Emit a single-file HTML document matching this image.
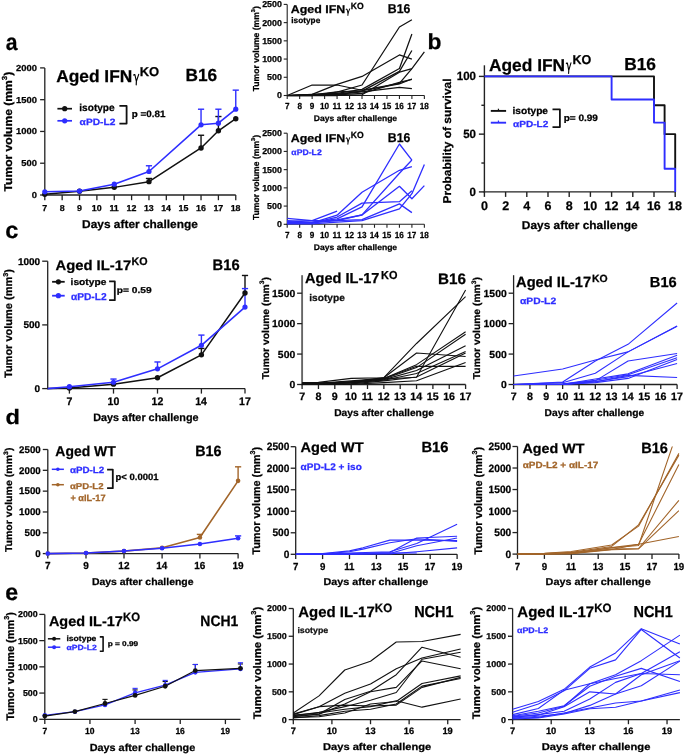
<!DOCTYPE html>
<html><head><meta charset="utf-8"><title>Figure</title>
<style>
html,body{margin:0;padding:0;background:#fff;width:685px;height:756px;overflow:hidden}
svg{display:block;will-change:transform;filter:blur(0.3px)}
text{font-family:'Liberation Sans', sans-serif;font-weight:bold;text-rendering:geometricPrecision;stroke-width:0.25px}
</style></head><body>
<svg width="685" height="756" viewBox="0 0 685 756">
<rect width="685" height="756" fill="#fff"/>
<text transform="translate(5.69 49.6) scale(0.9131 1)" font-size="23.175" fill="#000" stroke="#000">a</text>
<text transform="translate(427.49 49.3) scale(1.0417 1)" font-size="21.905" fill="#000" stroke="#000">b</text>
<text transform="translate(5.28 238.3) scale(1.0168 1)" font-size="23.175" fill="#000" stroke="#000">c</text>
<text transform="translate(5.53 423.5) scale(1.1343 1)" font-size="20.816" fill="#000" stroke="#000">d</text>
<text transform="translate(5.3 600.1) scale(0.9928 1)" font-size="23.358" fill="#000" stroke="#000">e</text>
<line x1="44.8" y1="195.65" x2="44.8" y2="67.9" stroke="#222" stroke-width="1.3"/>
<line x1="40.1" y1="195" x2="44.8" y2="195" stroke="#222" stroke-width="1.3"/>
<text transform="translate(31.76 197.99) scale(1.0800 1)" font-size="8.700" fill="#000" stroke="#000">0</text>
<line x1="40.1" y1="163.22" x2="44.8" y2="163.22" stroke="#222" stroke-width="1.3"/>
<text transform="translate(21.31 166.22) scale(1.0800 1)" font-size="8.700" fill="#000" stroke="#000">500</text>
<line x1="40.1" y1="131.45" x2="44.8" y2="131.45" stroke="#222" stroke-width="1.3"/>
<text transform="translate(16.09 134.44) scale(1.0800 1)" font-size="8.700" fill="#000" stroke="#000">1000</text>
<line x1="40.1" y1="99.68" x2="44.8" y2="99.68" stroke="#222" stroke-width="1.3"/>
<text transform="translate(16.09 102.67) scale(1.0800 1)" font-size="8.700" fill="#000" stroke="#000">1500</text>
<line x1="40.1" y1="67.9" x2="44.8" y2="67.9" stroke="#222" stroke-width="1.3"/>
<text transform="translate(16.09 70.89) scale(1.0800 1)" font-size="8.700" fill="#000" stroke="#000">2000</text>
<line x1="44.15" y1="195" x2="235.76" y2="195" stroke="#222" stroke-width="1.3"/>
<line x1="44.8" y1="195" x2="44.8" y2="200.2" stroke="#222" stroke-width="1.3"/>
<text transform="translate(42.34 210.8) scale(1.0300 1)" font-size="8.600" fill="#000" stroke="#000">7</text>
<line x1="62.16" y1="195" x2="62.16" y2="200.2" stroke="#222" stroke-width="1.3"/>
<text transform="translate(59.69 210.8) scale(1.0300 1)" font-size="8.600" fill="#000" stroke="#000">8</text>
<line x1="79.52" y1="195" x2="79.52" y2="200.2" stroke="#222" stroke-width="1.3"/>
<text transform="translate(77.07 210.8) scale(1.0300 1)" font-size="8.600" fill="#000" stroke="#000">9</text>
<line x1="96.88" y1="195" x2="96.88" y2="200.2" stroke="#222" stroke-width="1.3"/>
<text transform="translate(91.86 210.8) scale(1.0300 1)" font-size="8.600" fill="#000" stroke="#000">10</text>
<line x1="114.24" y1="195" x2="114.24" y2="200.2" stroke="#222" stroke-width="1.3"/>
<text transform="translate(109.4 210.8) scale(1.0300 1)" font-size="8.600" fill="#000" stroke="#000">11</text>
<line x1="131.6" y1="195" x2="131.6" y2="200.2" stroke="#222" stroke-width="1.3"/>
<text transform="translate(126.57 210.8) scale(1.0300 1)" font-size="8.600" fill="#000" stroke="#000">12</text>
<line x1="148.96" y1="195" x2="148.96" y2="200.2" stroke="#222" stroke-width="1.3"/>
<text transform="translate(143.92 210.8) scale(1.0300 1)" font-size="8.600" fill="#000" stroke="#000">13</text>
<line x1="166.32" y1="195" x2="166.32" y2="200.2" stroke="#222" stroke-width="1.3"/>
<text transform="translate(161.14 210.8) scale(1.0300 1)" font-size="8.600" fill="#000" stroke="#000">14</text>
<line x1="183.68" y1="195" x2="183.68" y2="200.2" stroke="#222" stroke-width="1.3"/>
<text transform="translate(178.6 210.8) scale(1.0300 1)" font-size="8.600" fill="#000" stroke="#000">15</text>
<line x1="201.04" y1="195" x2="201.04" y2="200.2" stroke="#222" stroke-width="1.3"/>
<text transform="translate(196 210.8) scale(1.0300 1)" font-size="8.600" fill="#000" stroke="#000">16</text>
<line x1="218.4" y1="195" x2="218.4" y2="200.2" stroke="#222" stroke-width="1.3"/>
<text transform="translate(213.39 210.8) scale(1.0300 1)" font-size="8.600" fill="#000" stroke="#000">17</text>
<line x1="235.76" y1="195" x2="235.76" y2="200.2" stroke="#222" stroke-width="1.3"/>
<text transform="translate(230.69 210.8) scale(1.0300 1)" font-size="8.600" fill="#000" stroke="#000">18</text>
<text transform="translate(12.4 191.43) rotate(-90) scale(1.0694 1)" font-size="11.300" stroke="#000">Tumor volume (mm<tspan dy="-5.09" font-size="7.35">3</tspan><tspan dy="5.09">)</tspan></text>
<text transform="translate(82.1 228.1) scale(1.0408 1)" font-size="11.449" fill="#000" stroke="#000">Days after challenge</text>
<text transform="translate(56.17 81.6) scale(1.0066 1)" font-size="17.246" fill="#000" stroke="#000">Aged IFN</text>
<path d="M133.78 75.19 Q133.9 74.32 134.85 74.5 L136.37 81.4 M138.72 74.38 L136.37 81.4 L136.22 84.82" fill="none" stroke="#000" stroke-width="1.16" stroke-linecap="round" stroke-linejoin="round"/>
<text transform="translate(139.73 75.85) scale(1.0203 1)" font-size="12.754" fill="#000" stroke="#000">KO</text>
<text transform="translate(185.44 81.1) scale(0.9850 1)" font-size="17.536" fill="#000" stroke="#000">B16</text>
<line x1="148.96" y1="181.65" x2="148.96" y2="178.48" stroke="#111" stroke-width="1.4"/>
<line x1="145.86" y1="178.48" x2="152.06" y2="178.48" stroke="#111" stroke-width="1.4"/>
<line x1="201.04" y1="147.97" x2="201.04" y2="135.26" stroke="#111" stroke-width="1.4"/>
<line x1="197.94" y1="135.26" x2="204.14" y2="135.26" stroke="#111" stroke-width="1.4"/>
<line x1="218.4" y1="130.81" x2="218.4" y2="116.52" stroke="#111" stroke-width="1.4"/>
<line x1="215.3" y1="116.52" x2="221.5" y2="116.52" stroke="#111" stroke-width="1.4"/>
<line x1="148.96" y1="171.49" x2="148.96" y2="165.77" stroke="#2e2eff" stroke-width="1.4"/>
<line x1="145.86" y1="165.77" x2="152.06" y2="165.77" stroke="#2e2eff" stroke-width="1.4"/>
<line x1="201.04" y1="124.78" x2="201.04" y2="109.21" stroke="#2e2eff" stroke-width="1.4"/>
<line x1="197.94" y1="109.21" x2="204.14" y2="109.21" stroke="#2e2eff" stroke-width="1.4"/>
<line x1="218.4" y1="123.19" x2="218.4" y2="109.21" stroke="#2e2eff" stroke-width="1.4"/>
<line x1="215.3" y1="109.21" x2="221.5" y2="109.21" stroke="#2e2eff" stroke-width="1.4"/>
<line x1="235.76" y1="109.21" x2="235.76" y2="90.14" stroke="#2e2eff" stroke-width="1.4"/>
<line x1="232.66" y1="90.14" x2="238.86" y2="90.14" stroke="#2e2eff" stroke-width="1.4"/>
<polyline points="44.8,194.36 79.52,191.19 114.24,187.37 148.96,181.65 201.04,147.97 218.4,130.81 235.76,118.74" fill="none" stroke="#111" stroke-width="1.5" stroke-linejoin="round"/>
<circle cx="44.8" cy="194.36" r="2.7" fill="#111"/>
<circle cx="79.52" cy="191.19" r="2.7" fill="#111"/>
<circle cx="114.24" cy="187.37" r="2.7" fill="#111"/>
<circle cx="148.96" cy="181.65" r="2.7" fill="#111"/>
<circle cx="201.04" cy="147.97" r="2.7" fill="#111"/>
<circle cx="218.4" cy="130.81" r="2.7" fill="#111"/>
<circle cx="235.76" cy="118.74" r="2.7" fill="#111"/>
<polyline points="44.8,191.82 79.52,191.06 114.24,184.2 148.96,171.49 201.04,124.78 218.4,123.19 235.76,109.21" fill="none" stroke="#2e2eff" stroke-width="1.6" stroke-linejoin="round"/>
<circle cx="44.8" cy="191.82" r="2.6" fill="#2e2eff"/>
<circle cx="79.52" cy="191.06" r="2.6" fill="#2e2eff"/>
<circle cx="114.24" cy="184.2" r="2.6" fill="#2e2eff"/>
<circle cx="148.96" cy="171.49" r="2.6" fill="#2e2eff"/>
<circle cx="201.04" cy="124.78" r="2.6" fill="#2e2eff"/>
<circle cx="218.4" cy="123.19" r="2.6" fill="#2e2eff"/>
<circle cx="235.76" cy="109.21" r="2.6" fill="#2e2eff"/>
<line x1="57.4" y1="108.7" x2="72" y2="108.7" stroke="#111" stroke-width="1.7"/>
<circle cx="64.7" cy="108.7" r="2.6" fill="#111"/>
<text transform="translate(79.29 111.3) scale(1.0057 1)" font-size="10.069" fill="#000" stroke="#000">isotype</text>
<line x1="57.4" y1="120.8" x2="72" y2="120.8" stroke="#2e2eff" stroke-width="1.7"/>
<circle cx="64.7" cy="120.8" r="2.6" fill="#2e2eff"/>
<text transform="translate(79.6 125.2) scale(1.1192 1)" font-size="9.130" fill="#2e2eff" stroke="#2e2eff">αPD-L2</text>
<polyline points="119.4,105.9 126.6,105.9 126.6,123.6 119.4,123.6" fill="none" stroke="#111" stroke-width="1.8" stroke-linejoin="round" stroke-linejoin="miter"/>
<text transform="translate(131.75 117.3) scale(1.0603 1)" font-size="9.275" fill="#000" stroke="#000">p =0.81</text>
<line x1="287.2" y1="96.05" x2="287.2" y2="4.4" stroke="#222" stroke-width="1.1"/>
<line x1="283.7" y1="95.5" x2="287.2" y2="95.5" stroke="#222" stroke-width="1.1"/>
<text transform="translate(276.94 98.46) scale(1.0300 1)" font-size="8.600" fill="#000" stroke="#000">0</text>
<line x1="283.7" y1="77.28" x2="287.2" y2="77.28" stroke="#222" stroke-width="1.1"/>
<text transform="translate(267.09 80.24) scale(1.0300 1)" font-size="8.600" fill="#000" stroke="#000">500</text>
<line x1="283.7" y1="59.06" x2="287.2" y2="59.06" stroke="#222" stroke-width="1.1"/>
<text transform="translate(262.16 62.02) scale(1.0300 1)" font-size="8.600" fill="#000" stroke="#000">1000</text>
<line x1="283.7" y1="40.84" x2="287.2" y2="40.84" stroke="#222" stroke-width="1.1"/>
<text transform="translate(262.16 43.8) scale(1.0300 1)" font-size="8.600" fill="#000" stroke="#000">1500</text>
<line x1="283.7" y1="22.62" x2="287.2" y2="22.62" stroke="#222" stroke-width="1.1"/>
<text transform="translate(262.16 25.58) scale(1.0300 1)" font-size="8.600" fill="#000" stroke="#000">2000</text>
<line x1="283.7" y1="4.4" x2="287.2" y2="4.4" stroke="#222" stroke-width="1.1"/>
<text transform="translate(262.16 7.36) scale(1.0300 1)" font-size="8.600" fill="#000" stroke="#000">2500</text>
<line x1="286.65" y1="95.5" x2="424.37" y2="95.5" stroke="#222" stroke-width="1.1"/>
<line x1="287.2" y1="95.5" x2="287.2" y2="99" stroke="#222" stroke-width="1.1"/>
<text transform="translate(284.93 109.2) scale(0.9200 1)" font-size="8.900" fill="#000" stroke="#000">7</text>
<line x1="299.67" y1="95.5" x2="299.67" y2="99" stroke="#222" stroke-width="1.1"/>
<text transform="translate(297.39 109.2) scale(0.9200 1)" font-size="8.900" fill="#000" stroke="#000">8</text>
<line x1="312.14" y1="95.5" x2="312.14" y2="99" stroke="#222" stroke-width="1.1"/>
<text transform="translate(309.87 109.2) scale(0.9200 1)" font-size="8.900" fill="#000" stroke="#000">9</text>
<line x1="324.61" y1="95.5" x2="324.61" y2="99" stroke="#222" stroke-width="1.1"/>
<text transform="translate(319.97 109.2) scale(0.9200 1)" font-size="8.900" fill="#000" stroke="#000">10</text>
<line x1="337.08" y1="95.5" x2="337.08" y2="99" stroke="#222" stroke-width="1.1"/>
<text transform="translate(332.61 109.2) scale(0.9200 1)" font-size="8.900" fill="#000" stroke="#000">11</text>
<line x1="349.55" y1="95.5" x2="349.55" y2="99" stroke="#222" stroke-width="1.1"/>
<text transform="translate(344.9 109.2) scale(0.9200 1)" font-size="8.900" fill="#000" stroke="#000">12</text>
<line x1="362.02" y1="95.5" x2="362.02" y2="99" stroke="#222" stroke-width="1.1"/>
<text transform="translate(357.36 109.2) scale(0.9200 1)" font-size="8.900" fill="#000" stroke="#000">13</text>
<line x1="374.49" y1="95.5" x2="374.49" y2="99" stroke="#222" stroke-width="1.1"/>
<text transform="translate(369.7 109.2) scale(0.9200 1)" font-size="8.900" fill="#000" stroke="#000">14</text>
<line x1="386.96" y1="95.5" x2="386.96" y2="99" stroke="#222" stroke-width="1.1"/>
<text transform="translate(382.26 109.2) scale(0.9200 1)" font-size="8.900" fill="#000" stroke="#000">15</text>
<line x1="399.43" y1="95.5" x2="399.43" y2="99" stroke="#222" stroke-width="1.1"/>
<text transform="translate(394.77 109.2) scale(0.9200 1)" font-size="8.900" fill="#000" stroke="#000">16</text>
<line x1="411.9" y1="95.5" x2="411.9" y2="99" stroke="#222" stroke-width="1.1"/>
<text transform="translate(407.27 109.2) scale(0.9200 1)" font-size="8.900" fill="#000" stroke="#000">17</text>
<line x1="424.37" y1="95.5" x2="424.37" y2="99" stroke="#222" stroke-width="1.1"/>
<text transform="translate(419.69 109.2) scale(0.9200 1)" font-size="8.900" fill="#000" stroke="#000">18</text>
<text transform="translate(258.6 91.29) rotate(-90) scale(0.9898 1)" font-size="8.700" stroke="#000">Tumor volume (mm<tspan dy="-3.91" font-size="5.65">3</tspan><tspan dy="3.91">)</tspan></text>
<text transform="translate(313.83 121.4) scale(1.0561 1)" font-size="8.116" fill="#000" stroke="#000">Days after challenge</text>
<text transform="translate(290.69 13.3) scale(1.1157 1)" font-size="11.159" fill="#000" stroke="#000">Aged IFN</text>
<path d="M346.2 9.5 Q346.3 8.75 346.92 8.9 L348.04 13.1 M349.7 8.8 L348.04 13.1 L347.89 15.4" fill="none" stroke="#000" stroke-width="1" stroke-linecap="round" stroke-linejoin="round"/>
<text transform="translate(350.72 9.35) scale(0.9601 1)" font-size="8.986" fill="#000" stroke="#000">KO</text>
<text transform="translate(387.78 13.2) scale(0.9540 1)" font-size="12.899" fill="#000" stroke="#000">B16</text>
<text transform="translate(291.32 23.3) scale(1.0165 1)" font-size="8.138" fill="#000" stroke="#000">isotype</text>
<polyline points="287.2,95.5 312.14,95.5 337.08,92.22 362.02,85.01 399.43,26.99 411.9,19.7" fill="none" stroke="#111" stroke-width="1.25" stroke-linejoin="round"/>
<polyline points="287.2,95.5 312.14,94.41 337.08,84.35 362.02,76.44 399.43,54.94 411.9,59.17" fill="none" stroke="#111" stroke-width="1.25" stroke-linejoin="round"/>
<polyline points="287.2,95.5 312.14,94.41 337.08,93.31 362.02,89.38 399.43,68.57 411.9,33.92" fill="none" stroke="#111" stroke-width="1.25" stroke-linejoin="round"/>
<polyline points="287.2,95.5 312.14,95.14 337.08,94.04 362.02,91.13 399.43,71.38 411.9,50.53" fill="none" stroke="#111" stroke-width="1.25" stroke-linejoin="round"/>
<polyline points="287.2,95.5 312.14,85.01 337.08,85.01 362.02,90.25 399.43,83.47 411.9,68.57 424.37,51.77" fill="none" stroke="#111" stroke-width="1.25" stroke-linejoin="round"/>
<polyline points="287.2,95.5 312.14,94.77 337.08,91.86 362.02,90.76 399.43,83.84 411.9,78.99" fill="none" stroke="#111" stroke-width="1.25" stroke-linejoin="round"/>
<polyline points="287.2,95.5 312.14,95.14 337.08,94.41 362.02,91.86 399.43,87.26 411.9,88.69" fill="none" stroke="#111" stroke-width="1.25" stroke-linejoin="round"/>
<polyline points="287.2,95.5 312.14,95.5 337.08,95.5 362.02,94.77 399.43,72.18 411.9,68.53" fill="none" stroke="#111" stroke-width="1.25" stroke-linejoin="round"/>
<polyline points="287.2,95.5 312.14,95.32 337.08,94.77 362.02,93.31 399.43,82.38 411.9,79.47" fill="none" stroke="#111" stroke-width="1.25" stroke-linejoin="round"/>
<line x1="287.2" y1="224.85" x2="287.2" y2="133.2" stroke="#222" stroke-width="1.1"/>
<line x1="283.7" y1="224.3" x2="287.2" y2="224.3" stroke="#222" stroke-width="1.1"/>
<text transform="translate(276.94 227.26) scale(1.0300 1)" font-size="8.600" fill="#000" stroke="#000">0</text>
<line x1="283.7" y1="206.08" x2="287.2" y2="206.08" stroke="#222" stroke-width="1.1"/>
<text transform="translate(267.09 209.04) scale(1.0300 1)" font-size="8.600" fill="#000" stroke="#000">500</text>
<line x1="283.7" y1="187.86" x2="287.2" y2="187.86" stroke="#222" stroke-width="1.1"/>
<text transform="translate(262.16 190.82) scale(1.0300 1)" font-size="8.600" fill="#000" stroke="#000">1000</text>
<line x1="283.7" y1="169.64" x2="287.2" y2="169.64" stroke="#222" stroke-width="1.1"/>
<text transform="translate(262.16 172.6) scale(1.0300 1)" font-size="8.600" fill="#000" stroke="#000">1500</text>
<line x1="283.7" y1="151.42" x2="287.2" y2="151.42" stroke="#222" stroke-width="1.1"/>
<text transform="translate(262.16 154.38) scale(1.0300 1)" font-size="8.600" fill="#000" stroke="#000">2000</text>
<line x1="283.7" y1="133.2" x2="287.2" y2="133.2" stroke="#222" stroke-width="1.1"/>
<text transform="translate(262.16 136.16) scale(1.0300 1)" font-size="8.600" fill="#000" stroke="#000">2500</text>
<line x1="286.65" y1="224.3" x2="424.37" y2="224.3" stroke="#222" stroke-width="1.1"/>
<line x1="287.2" y1="224.3" x2="287.2" y2="227.8" stroke="#222" stroke-width="1.1"/>
<text transform="translate(284.93 238) scale(0.9200 1)" font-size="8.900" fill="#000" stroke="#000">7</text>
<line x1="299.67" y1="224.3" x2="299.67" y2="227.8" stroke="#222" stroke-width="1.1"/>
<text transform="translate(297.39 238) scale(0.9200 1)" font-size="8.900" fill="#000" stroke="#000">8</text>
<line x1="312.14" y1="224.3" x2="312.14" y2="227.8" stroke="#222" stroke-width="1.1"/>
<text transform="translate(309.87 238) scale(0.9200 1)" font-size="8.900" fill="#000" stroke="#000">9</text>
<line x1="324.61" y1="224.3" x2="324.61" y2="227.8" stroke="#222" stroke-width="1.1"/>
<text transform="translate(319.97 238) scale(0.9200 1)" font-size="8.900" fill="#000" stroke="#000">10</text>
<line x1="337.08" y1="224.3" x2="337.08" y2="227.8" stroke="#222" stroke-width="1.1"/>
<text transform="translate(332.61 238) scale(0.9200 1)" font-size="8.900" fill="#000" stroke="#000">11</text>
<line x1="349.55" y1="224.3" x2="349.55" y2="227.8" stroke="#222" stroke-width="1.1"/>
<text transform="translate(344.9 238) scale(0.9200 1)" font-size="8.900" fill="#000" stroke="#000">12</text>
<line x1="362.02" y1="224.3" x2="362.02" y2="227.8" stroke="#222" stroke-width="1.1"/>
<text transform="translate(357.36 238) scale(0.9200 1)" font-size="8.900" fill="#000" stroke="#000">13</text>
<line x1="374.49" y1="224.3" x2="374.49" y2="227.8" stroke="#222" stroke-width="1.1"/>
<text transform="translate(369.7 238) scale(0.9200 1)" font-size="8.900" fill="#000" stroke="#000">14</text>
<line x1="386.96" y1="224.3" x2="386.96" y2="227.8" stroke="#222" stroke-width="1.1"/>
<text transform="translate(382.26 238) scale(0.9200 1)" font-size="8.900" fill="#000" stroke="#000">15</text>
<line x1="399.43" y1="224.3" x2="399.43" y2="227.8" stroke="#222" stroke-width="1.1"/>
<text transform="translate(394.77 238) scale(0.9200 1)" font-size="8.900" fill="#000" stroke="#000">16</text>
<line x1="411.9" y1="224.3" x2="411.9" y2="227.8" stroke="#222" stroke-width="1.1"/>
<text transform="translate(407.27 238) scale(0.9200 1)" font-size="8.900" fill="#000" stroke="#000">17</text>
<line x1="424.37" y1="224.3" x2="424.37" y2="227.8" stroke="#222" stroke-width="1.1"/>
<text transform="translate(419.69 238) scale(0.9200 1)" font-size="8.900" fill="#000" stroke="#000">18</text>
<text transform="translate(258.6 220.09) rotate(-90) scale(0.9898 1)" font-size="8.700" stroke="#000">Tumor volume (mm<tspan dy="-3.91" font-size="5.65">3</tspan><tspan dy="3.91">)</tspan></text>
<text transform="translate(313.83 250.2) scale(1.0561 1)" font-size="8.116" fill="#000" stroke="#000">Days after challenge</text>
<text transform="translate(290.69 142.1) scale(1.1157 1)" font-size="11.159" fill="#000" stroke="#000">Aged IFN</text>
<path d="M346.2 138.3 Q346.3 137.55 346.92 137.7 L348.04 141.9 M349.7 137.6 L348.04 141.9 L347.89 144.2" fill="none" stroke="#000" stroke-width="1" stroke-linecap="round" stroke-linejoin="round"/>
<text transform="translate(350.72 138.15) scale(0.9601 1)" font-size="8.986" fill="#000" stroke="#000">KO</text>
<text transform="translate(387.78 142) scale(0.9540 1)" font-size="12.899" fill="#000" stroke="#000">B16</text>
<text transform="translate(291.36 154.6) scale(1.0685 1)" font-size="8.116" fill="#2e2eff" stroke="#2e2eff">αPD-L2</text>
<polyline points="287.2,220.66 312.14,222.48 337.08,218.83 362.02,206.81 399.43,144.02 411.9,160.06" fill="none" stroke="#2e2eff" stroke-width="1.3" stroke-linejoin="round"/>
<polyline points="287.2,222.48 312.14,222.84 337.08,220.66 362.02,214.83 399.43,173.28 411.9,160.06" fill="none" stroke="#2e2eff" stroke-width="1.3" stroke-linejoin="round"/>
<polyline points="287.2,222.48 312.14,222.84 337.08,215.19 362.02,192.2 399.43,170.3 411.9,166.62" fill="none" stroke="#2e2eff" stroke-width="1.3" stroke-linejoin="round"/>
<polyline points="287.2,223.57 312.14,222.11 337.08,219.93 362.02,215.01 399.43,186.33 411.9,198.76 424.37,185.6" fill="none" stroke="#2e2eff" stroke-width="1.3" stroke-linejoin="round"/>
<polyline points="287.2,223.21 312.14,223.21 337.08,217.01 362.02,203.13 399.43,201.71 411.9,190.74" fill="none" stroke="#2e2eff" stroke-width="1.3" stroke-linejoin="round"/>
<polyline points="287.2,221.38 312.14,220.66 337.08,220.66 362.02,219.56 399.43,203.86 411.9,212.64" fill="none" stroke="#2e2eff" stroke-width="1.3" stroke-linejoin="round"/>
<polyline points="287.2,223.94 312.14,223.94 337.08,222.11 362.02,220.66 399.43,208.96 411.9,193.65 424.37,164.43" fill="none" stroke="#2e2eff" stroke-width="1.3" stroke-linejoin="round"/>
<polyline points="287.2,218.47 312.14,220.66 337.08,211.15" fill="none" stroke="#2e2eff" stroke-width="1.3" stroke-linejoin="round"/>
<line x1="484.4" y1="192.6" x2="484.4" y2="65.3" stroke="#222" stroke-width="1.4"/>
<line x1="478.9" y1="191.9" x2="484.4" y2="191.9" stroke="#222" stroke-width="1.4"/>
<text transform="translate(469.56 195.99) scale(0.9700 1)" font-size="11.900" fill="#000" stroke="#000">0</text>
<line x1="478.9" y1="134.15" x2="484.4" y2="134.15" stroke="#222" stroke-width="1.4"/>
<text transform="translate(463.14 138.24) scale(0.9700 1)" font-size="11.900" fill="#000" stroke="#000">50</text>
<line x1="478.9" y1="76.4" x2="484.4" y2="76.4" stroke="#222" stroke-width="1.4"/>
<text transform="translate(456.72 80.49) scale(0.9700 1)" font-size="11.900" fill="#000" stroke="#000">100</text>
<line x1="481.38" y1="163.03" x2="484.4" y2="163.03" stroke="#222" stroke-width="1.4"/>
<line x1="481.38" y1="105.28" x2="484.4" y2="105.28" stroke="#222" stroke-width="1.4"/>
<line x1="483.7" y1="191.9" x2="675.2" y2="191.9" stroke="#222" stroke-width="1.4"/>
<line x1="484.4" y1="191.9" x2="484.4" y2="196.9" stroke="#222" stroke-width="1.4"/>
<text transform="translate(480.93 210.4) scale(1.0000 1)" font-size="12.500" fill="#000" stroke="#000">0</text>
<line x1="505.6" y1="191.9" x2="505.6" y2="196.9" stroke="#222" stroke-width="1.4"/>
<text transform="translate(502.16 210.4) scale(1.0000 1)" font-size="12.500" fill="#000" stroke="#000">2</text>
<line x1="526.8" y1="191.9" x2="526.8" y2="196.9" stroke="#222" stroke-width="1.4"/>
<text transform="translate(523.26 210.4) scale(1.0000 1)" font-size="12.500" fill="#000" stroke="#000">4</text>
<line x1="548" y1="191.9" x2="548" y2="196.9" stroke="#222" stroke-width="1.4"/>
<text transform="translate(544.52 210.4) scale(1.0000 1)" font-size="12.500" fill="#000" stroke="#000">6</text>
<line x1="569.2" y1="191.9" x2="569.2" y2="196.9" stroke="#222" stroke-width="1.4"/>
<text transform="translate(565.72 210.4) scale(1.0000 1)" font-size="12.500" fill="#000" stroke="#000">8</text>
<line x1="590.4" y1="191.9" x2="590.4" y2="196.9" stroke="#222" stroke-width="1.4"/>
<text transform="translate(583.31 210.4) scale(1.0000 1)" font-size="12.500" fill="#000" stroke="#000">10</text>
<line x1="611.6" y1="191.9" x2="611.6" y2="196.9" stroke="#222" stroke-width="1.4"/>
<text transform="translate(604.51 210.4) scale(1.0000 1)" font-size="12.500" fill="#000" stroke="#000">12</text>
<line x1="632.8" y1="191.9" x2="632.8" y2="196.9" stroke="#222" stroke-width="1.4"/>
<text transform="translate(625.49 210.4) scale(1.0000 1)" font-size="12.500" fill="#000" stroke="#000">14</text>
<line x1="654" y1="191.9" x2="654" y2="196.9" stroke="#222" stroke-width="1.4"/>
<text transform="translate(646.88 210.4) scale(1.0000 1)" font-size="12.500" fill="#000" stroke="#000">16</text>
<line x1="675.2" y1="191.9" x2="675.2" y2="196.9" stroke="#222" stroke-width="1.4"/>
<text transform="translate(668.05 210.4) scale(1.0000 1)" font-size="12.500" fill="#000" stroke="#000">18</text>
<text transform="translate(450.8 203.5) rotate(-90) scale(1.0509 1)" font-size="11.400" stroke="#000">Probability of survival</text>
<text transform="translate(521.8 228.6) scale(1.0408 1)" font-size="11.449" fill="#000" stroke="#000">Days after challenge</text>
<text transform="translate(488.97 70.6) scale(1.0066 1)" font-size="17.246" fill="#000" stroke="#000">Aged IFN</text>
<path d="M566.34 63.6 Q566.45 62.79 567.34 62.95 L568.76 70.4 M570.96 62.84 L568.76 70.4 L568.61 73.36" fill="none" stroke="#000" stroke-width="1.08" stroke-linecap="round" stroke-linejoin="round"/>
<text transform="translate(572.46 64.35) scale(0.9754 1)" font-size="12.899" fill="#000" stroke="#000">KO</text>
<text transform="translate(624.13 69.7) scale(0.9999 1)" font-size="17.391" fill="#000" stroke="#000">B16</text>
<polyline points="484.4,76.4 654,76.4 654,105.28 664.6,105.28 664.6,134.15 675.2,134.15 675.2,168.8" fill="none" stroke="#111" stroke-width="1.9" stroke-linejoin="round" stroke-linejoin="miter"/>
<polyline points="484.4,76.4 611.6,76.4 611.6,99.5 654,99.5 654,122.6 664.6,122.6 664.6,168.8 675.2,168.8 675.2,191.9" fill="none" stroke="#2e2eff" stroke-width="1.9" stroke-linejoin="round" stroke-linejoin="miter"/>
<line x1="490.8" y1="110.9" x2="506.1" y2="110.9" stroke="#111" stroke-width="1.9"/>
<line x1="498.45" y1="108.7" x2="498.45" y2="110.9" stroke="#111" stroke-width="1.2"/>
<text transform="translate(512.49 114.4) scale(1.0371 1)" font-size="9.793" fill="#000" stroke="#000">isotype</text>
<line x1="490.8" y1="122.7" x2="506.1" y2="122.7" stroke="#2e2eff" stroke-width="1.9"/>
<line x1="498.45" y1="120.5" x2="498.45" y2="122.7" stroke="#2e2eff" stroke-width="1.2"/>
<text transform="translate(513.01 127.3) scale(1.1427 1)" font-size="8.841" fill="#2e2eff" stroke="#2e2eff">αPD-L2</text>
<polyline points="552.5,109.3 559.9,109.3 559.9,127.1 552.5,127.1" fill="none" stroke="#111" stroke-width="1.8" stroke-linejoin="round" stroke-linejoin="miter"/>
<text transform="translate(563.64 120.9) scale(1.0827 1)" font-size="9.275" fill="#000" stroke="#000">p= 0.99</text>
<line x1="47.7" y1="389.25" x2="47.7" y2="261.2" stroke="#222" stroke-width="1.3"/>
<line x1="42.2" y1="388.6" x2="47.7" y2="388.6" stroke="#222" stroke-width="1.3"/>
<text transform="translate(34.55 391.94) scale(1.0300 1)" font-size="9.700" fill="#000" stroke="#000">0</text>
<line x1="42.2" y1="324.9" x2="47.7" y2="324.9" stroke="#222" stroke-width="1.3"/>
<text transform="translate(23.44 328.24) scale(1.0300 1)" font-size="9.700" fill="#000" stroke="#000">500</text>
<line x1="42.2" y1="261.2" x2="47.7" y2="261.2" stroke="#222" stroke-width="1.3"/>
<text transform="translate(17.89 264.54) scale(1.0300 1)" font-size="9.700" fill="#000" stroke="#000">1000</text>
<line x1="47.05" y1="388.6" x2="245" y2="388.6" stroke="#222" stroke-width="1.3"/>
<line x1="69.4" y1="388.6" x2="69.4" y2="393.6" stroke="#222" stroke-width="1.3"/>
<text transform="translate(66.47 405.3) scale(0.9600 1)" font-size="11.000" fill="#000" stroke="#000">7</text>
<line x1="113.5" y1="388.6" x2="113.5" y2="393.6" stroke="#222" stroke-width="1.3"/>
<text transform="translate(107.51 405.3) scale(0.9600 1)" font-size="11.000" fill="#000" stroke="#000">10</text>
<line x1="157.5" y1="388.6" x2="157.5" y2="393.6" stroke="#222" stroke-width="1.3"/>
<text transform="translate(151.51 405.3) scale(0.9600 1)" font-size="11.000" fill="#000" stroke="#000">12</text>
<line x1="201.4" y1="388.6" x2="201.4" y2="393.6" stroke="#222" stroke-width="1.3"/>
<text transform="translate(195.22 405.3) scale(0.9600 1)" font-size="11.000" fill="#000" stroke="#000">14</text>
<line x1="245" y1="388.6" x2="245" y2="393.6" stroke="#222" stroke-width="1.3"/>
<text transform="translate(239.03 405.3) scale(0.9600 1)" font-size="11.000" fill="#000" stroke="#000">17</text>
<text transform="translate(12.4 378.02) rotate(-90) scale(1.0297 1)" font-size="10.700" stroke="#000">Tumor volume (mm<tspan dy="-4.81" font-size="6.96">3</tspan><tspan dy="4.81">)</tspan></text>
<text transform="translate(93.17 421.1) scale(1.0114 1)" font-size="10.725" fill="#000" stroke="#000">Days after challenge</text>
<text transform="translate(55.53 270.1) scale(1.0632 1)" font-size="13.913" fill="#000" stroke="#000">Aged IL-17</text>
<text transform="translate(131.58 265.35) scale(0.9725 1)" font-size="11.014" fill="#000" stroke="#000">KO</text>
<text transform="translate(212.61 269.8) scale(0.9681 1)" font-size="15.217" fill="#000" stroke="#000">B16</text>
<line x1="245" y1="293.05" x2="245" y2="275.47" stroke="#111" stroke-width="1.4"/>
<line x1="241.9" y1="275.47" x2="248.1" y2="275.47" stroke="#111" stroke-width="1.4"/>
<line x1="201.4" y1="354.84" x2="201.4" y2="348.47" stroke="#111" stroke-width="1.4"/>
<line x1="198.3" y1="348.47" x2="204.5" y2="348.47" stroke="#111" stroke-width="1.4"/>
<line x1="245" y1="307.06" x2="245" y2="288.59" stroke="#2e2eff" stroke-width="1.4"/>
<line x1="241.9" y1="288.59" x2="248.1" y2="288.59" stroke="#2e2eff" stroke-width="1.4"/>
<line x1="201.4" y1="345.28" x2="201.4" y2="335.09" stroke="#2e2eff" stroke-width="1.4"/>
<line x1="198.3" y1="335.09" x2="204.5" y2="335.09" stroke="#2e2eff" stroke-width="1.4"/>
<line x1="157.5" y1="368.85" x2="157.5" y2="361.97" stroke="#2e2eff" stroke-width="1.4"/>
<line x1="154.4" y1="361.97" x2="160.6" y2="361.97" stroke="#2e2eff" stroke-width="1.4"/>
<line x1="113.5" y1="382.23" x2="113.5" y2="379.05" stroke="#2e2eff" stroke-width="1.4"/>
<line x1="110.4" y1="379.05" x2="116.6" y2="379.05" stroke="#2e2eff" stroke-width="1.4"/>
<polyline points="47.7,388.6 69.4,387.96 69.4,387.96 113.5,384.14 157.5,377.77 201.4,354.84 245,293.05" fill="none" stroke="#111" stroke-width="1.5" stroke-linejoin="round"/>
<circle cx="69.4" cy="387.96" r="2.7" fill="#111"/>
<circle cx="113.5" cy="384.14" r="2.7" fill="#111"/>
<circle cx="157.5" cy="377.77" r="2.7" fill="#111"/>
<circle cx="201.4" cy="354.84" r="2.7" fill="#111"/>
<circle cx="245" cy="293.05" r="2.7" fill="#111"/>
<polyline points="47.7,388.6 69.4,386.69 69.4,386.69 113.5,382.23 157.5,368.85 201.4,345.28 245,307.06" fill="none" stroke="#2e2eff" stroke-width="1.6" stroke-linejoin="round"/>
<circle cx="69.4" cy="386.69" r="2.6" fill="#2e2eff"/>
<circle cx="113.5" cy="382.23" r="2.6" fill="#2e2eff"/>
<circle cx="157.5" cy="368.85" r="2.6" fill="#2e2eff"/>
<circle cx="201.4" cy="345.28" r="2.6" fill="#2e2eff"/>
<circle cx="245" cy="307.06" r="2.6" fill="#2e2eff"/>
<line x1="52.1" y1="281.8" x2="64.7" y2="281.8" stroke="#111" stroke-width="1.8"/>
<circle cx="58.4" cy="281.8" r="2.6" fill="#111"/>
<text transform="translate(70.58 285) scale(1.1053 1)" font-size="9.241" fill="#000" stroke="#000">isotype</text>
<line x1="52.1" y1="295.7" x2="64.7" y2="295.7" stroke="#2e2eff" stroke-width="1.8"/>
<circle cx="58.4" cy="295.7" r="2.6" fill="#2e2eff"/>
<text transform="translate(70.9 300.4) scale(1.0190 1)" font-size="10.000" fill="#2e2eff" stroke="#2e2eff">αPD-L2</text>
<polyline points="109.1,281.3 114.8,281.3 114.8,300.2 109.1,300.2" fill="none" stroke="#111" stroke-width="1.8" stroke-linejoin="round" stroke-linejoin="miter"/>
<text transform="translate(116.73 292.9) scale(1.1956 1)" font-size="8.551" fill="#000" stroke="#000">p= 0.59</text>
<line x1="302.1" y1="385.15" x2="302.1" y2="275.2" stroke="#666" stroke-width="1.9"/>
<line x1="297.1" y1="384.5" x2="302.1" y2="384.5" stroke="#222" stroke-width="1.3"/>
<text transform="translate(289.44 388.01) scale(1.0200 1)" font-size="10.200" fill="#000" stroke="#000">0</text>
<line x1="297.1" y1="354.07" x2="302.1" y2="354.07" stroke="#222" stroke-width="1.3"/>
<text transform="translate(277.87 357.58) scale(1.0200 1)" font-size="10.200" fill="#000" stroke="#000">500</text>
<line x1="297.1" y1="323.63" x2="302.1" y2="323.63" stroke="#222" stroke-width="1.3"/>
<text transform="translate(272.09 327.14) scale(1.0200 1)" font-size="10.200" fill="#000" stroke="#000">1000</text>
<line x1="297.1" y1="293.2" x2="302.1" y2="293.2" stroke="#222" stroke-width="1.3"/>
<text transform="translate(272.09 296.71) scale(1.0200 1)" font-size="10.200" fill="#000" stroke="#000">1500</text>
<line x1="301.45" y1="384.5" x2="465.6" y2="384.5" stroke="#222" stroke-width="1.3"/>
<line x1="302.1" y1="384.5" x2="302.1" y2="389" stroke="#222" stroke-width="1.3"/>
<text transform="translate(299.13 400.4) scale(1.0000 1)" font-size="10.700" fill="#000" stroke="#000">7</text>
<line x1="318.45" y1="384.5" x2="318.45" y2="389" stroke="#222" stroke-width="1.3"/>
<text transform="translate(315.47 400.4) scale(1.0000 1)" font-size="10.700" fill="#000" stroke="#000">8</text>
<line x1="334.8" y1="384.5" x2="334.8" y2="389" stroke="#222" stroke-width="1.3"/>
<text transform="translate(331.84 400.4) scale(1.0000 1)" font-size="10.700" fill="#000" stroke="#000">9</text>
<line x1="351.15" y1="384.5" x2="351.15" y2="389" stroke="#222" stroke-width="1.3"/>
<text transform="translate(345.08 400.4) scale(1.0000 1)" font-size="10.700" fill="#000" stroke="#000">10</text>
<line x1="367.5" y1="384.5" x2="367.5" y2="389" stroke="#222" stroke-width="1.3"/>
<text transform="translate(361.66 400.4) scale(1.0000 1)" font-size="10.700" fill="#000" stroke="#000">11</text>
<line x1="383.85" y1="384.5" x2="383.85" y2="389" stroke="#222" stroke-width="1.3"/>
<text transform="translate(377.78 400.4) scale(1.0000 1)" font-size="10.700" fill="#000" stroke="#000">12</text>
<line x1="400.2" y1="384.5" x2="400.2" y2="389" stroke="#222" stroke-width="1.3"/>
<text transform="translate(394.11 400.4) scale(1.0000 1)" font-size="10.700" fill="#000" stroke="#000">13</text>
<line x1="416.55" y1="384.5" x2="416.55" y2="389" stroke="#222" stroke-width="1.3"/>
<text transform="translate(410.29 400.4) scale(1.0000 1)" font-size="10.700" fill="#000" stroke="#000">14</text>
<line x1="432.9" y1="384.5" x2="432.9" y2="389" stroke="#222" stroke-width="1.3"/>
<text transform="translate(426.76 400.4) scale(1.0000 1)" font-size="10.700" fill="#000" stroke="#000">15</text>
<line x1="449.25" y1="384.5" x2="449.25" y2="389" stroke="#222" stroke-width="1.3"/>
<text transform="translate(443.16 400.4) scale(1.0000 1)" font-size="10.700" fill="#000" stroke="#000">16</text>
<line x1="465.6" y1="384.5" x2="465.6" y2="389" stroke="#222" stroke-width="1.3"/>
<text transform="translate(459.55 400.4) scale(1.0000 1)" font-size="10.700" fill="#000" stroke="#000">17</text>
<text transform="translate(268.7 379.21) rotate(-90) scale(1.0317 1)" font-size="10.000" stroke="#000">Tumor volume (mm<tspan dy="-4.5" font-size="6.5">3</tspan><tspan dy="4.5">)</tspan></text>
<text transform="translate(334.21 415.6) scale(1.0405 1)" font-size="9.855" fill="#000" stroke="#000">Days after challenge</text>
<text transform="translate(305.04 283.2) scale(1.0043 1)" font-size="14.493" fill="#000" stroke="#000">Aged IL-17</text>
<text transform="translate(381.07 278.55) scale(0.9425 1)" font-size="11.594" fill="#000" stroke="#000">KO</text>
<text transform="translate(438.08 283.5) scale(1.0022 1)" font-size="15.217" fill="#000" stroke="#000">B16</text>
<text transform="translate(309.19 301.1) scale(1.0401 1)" font-size="9.793" fill="#111" stroke="#111">isotype</text>
<polyline points="302.1,383.28 318.45,382.98 351.15,382.07 383.85,377.62 416.55,343.48 465.6,296.67" fill="none" stroke="#111" stroke-width="1.1" stroke-linejoin="round"/>
<polyline points="302.1,383.89 318.45,383.28 351.15,382.67 383.85,379.02 416.55,377.2 465.6,290.1" fill="none" stroke="#111" stroke-width="1.1" stroke-linejoin="round"/>
<polyline points="302.1,382.67 318.45,382.37 351.15,378.41 383.85,377.8 416.55,352.97 465.6,356.56" fill="none" stroke="#111" stroke-width="1.1" stroke-linejoin="round"/>
<polyline points="302.1,383.59 318.45,383.28 351.15,380.85 383.85,378.41 416.55,364.66 465.6,331.73" fill="none" stroke="#111" stroke-width="1.1" stroke-linejoin="round"/>
<polyline points="302.1,383.89 318.45,383.59 351.15,381.46 383.85,379.02 416.55,367.58 465.6,334.22" fill="none" stroke="#111" stroke-width="1.1" stroke-linejoin="round"/>
<polyline points="302.1,384.2 318.45,383.89 351.15,383.28 383.85,379.63 416.55,370.5 465.6,345.67" fill="none" stroke="#111" stroke-width="1.1" stroke-linejoin="round"/>
<polyline points="302.1,384.2 318.45,383.89 351.15,382.67 383.85,380.24 416.55,373.42 465.6,351.45" fill="none" stroke="#111" stroke-width="1.1" stroke-linejoin="round"/>
<polyline points="302.1,384.5 318.45,384.2 351.15,383.89 383.85,380.85 416.55,377.07 465.6,352.97" fill="none" stroke="#111" stroke-width="1.1" stroke-linejoin="round"/>
<polyline points="302.1,384.5 318.45,384.5 351.15,384.2 383.85,382.67 416.55,380.73 465.6,362.47" fill="none" stroke="#111" stroke-width="1.1" stroke-linejoin="round"/>
<polyline points="302.1,383.28 318.45,383.28 351.15,382.07 383.85,378.41 416.55,366.24 465.6,366.36" fill="none" stroke="#111" stroke-width="1.1" stroke-linejoin="round"/>
<line x1="513.6" y1="385.15" x2="513.6" y2="275.2" stroke="#222" stroke-width="1.3"/>
<line x1="508.6" y1="384.5" x2="513.6" y2="384.5" stroke="#222" stroke-width="1.3"/>
<text transform="translate(500.94 388.01) scale(1.0200 1)" font-size="10.200" fill="#000" stroke="#000">0</text>
<line x1="508.6" y1="354.07" x2="513.6" y2="354.07" stroke="#222" stroke-width="1.3"/>
<text transform="translate(489.37 357.58) scale(1.0200 1)" font-size="10.200" fill="#000" stroke="#000">500</text>
<line x1="508.6" y1="323.63" x2="513.6" y2="323.63" stroke="#222" stroke-width="1.3"/>
<text transform="translate(483.59 327.14) scale(1.0200 1)" font-size="10.200" fill="#000" stroke="#000">1000</text>
<line x1="508.6" y1="293.2" x2="513.6" y2="293.2" stroke="#222" stroke-width="1.3"/>
<text transform="translate(483.59 296.71) scale(1.0200 1)" font-size="10.200" fill="#000" stroke="#000">1500</text>
<line x1="512.95" y1="384.5" x2="677.1" y2="384.5" stroke="#222" stroke-width="1.3"/>
<line x1="513.6" y1="384.5" x2="513.6" y2="389" stroke="#222" stroke-width="1.3"/>
<text transform="translate(510.63 400.4) scale(1.0000 1)" font-size="10.700" fill="#000" stroke="#000">7</text>
<line x1="529.95" y1="384.5" x2="529.95" y2="389" stroke="#222" stroke-width="1.3"/>
<text transform="translate(526.97 400.4) scale(1.0000 1)" font-size="10.700" fill="#000" stroke="#000">8</text>
<line x1="546.3" y1="384.5" x2="546.3" y2="389" stroke="#222" stroke-width="1.3"/>
<text transform="translate(543.34 400.4) scale(1.0000 1)" font-size="10.700" fill="#000" stroke="#000">9</text>
<line x1="562.65" y1="384.5" x2="562.65" y2="389" stroke="#222" stroke-width="1.3"/>
<text transform="translate(556.58 400.4) scale(1.0000 1)" font-size="10.700" fill="#000" stroke="#000">10</text>
<line x1="579" y1="384.5" x2="579" y2="389" stroke="#222" stroke-width="1.3"/>
<text transform="translate(573.16 400.4) scale(1.0000 1)" font-size="10.700" fill="#000" stroke="#000">11</text>
<line x1="595.35" y1="384.5" x2="595.35" y2="389" stroke="#222" stroke-width="1.3"/>
<text transform="translate(589.28 400.4) scale(1.0000 1)" font-size="10.700" fill="#000" stroke="#000">12</text>
<line x1="611.7" y1="384.5" x2="611.7" y2="389" stroke="#222" stroke-width="1.3"/>
<text transform="translate(605.61 400.4) scale(1.0000 1)" font-size="10.700" fill="#000" stroke="#000">13</text>
<line x1="628.05" y1="384.5" x2="628.05" y2="389" stroke="#222" stroke-width="1.3"/>
<text transform="translate(621.79 400.4) scale(1.0000 1)" font-size="10.700" fill="#000" stroke="#000">14</text>
<line x1="644.4" y1="384.5" x2="644.4" y2="389" stroke="#222" stroke-width="1.3"/>
<text transform="translate(638.26 400.4) scale(1.0000 1)" font-size="10.700" fill="#000" stroke="#000">15</text>
<line x1="660.75" y1="384.5" x2="660.75" y2="389" stroke="#222" stroke-width="1.3"/>
<text transform="translate(654.66 400.4) scale(1.0000 1)" font-size="10.700" fill="#000" stroke="#000">16</text>
<line x1="677.1" y1="384.5" x2="677.1" y2="389" stroke="#222" stroke-width="1.3"/>
<text transform="translate(671.05 400.4) scale(1.0000 1)" font-size="10.700" fill="#000" stroke="#000">17</text>
<text transform="translate(480.2 379.21) rotate(-90) scale(1.0317 1)" font-size="10.000" stroke="#000">Tumor volume (mm<tspan dy="-4.5" font-size="6.5">3</tspan><tspan dy="4.5">)</tspan></text>
<text transform="translate(544.61 415.6) scale(1.0395 1)" font-size="9.855" fill="#000" stroke="#000">Days after challenge</text>
<text transform="translate(516.03 287.3) scale(0.9953 1)" font-size="14.783" fill="#000" stroke="#000">Aged IL-17</text>
<text transform="translate(592.1 282.05) scale(0.9990 1)" font-size="10.435" fill="#000" stroke="#000">KO</text>
<text transform="translate(649.82 287.3) scale(1.0125 1)" font-size="14.493" fill="#000" stroke="#000">B16</text>
<text transform="translate(519.9 303.5) scale(1.1175 1)" font-size="9.275" fill="#2e2eff" stroke="#2e2eff">αPD-L2</text>
<polyline points="513.6,375.92 562.65,368.98 595.35,360.09 628.05,351.88 677.1,326.25" fill="none" stroke="#2e2eff" stroke-width="1.1" stroke-linejoin="round"/>
<polyline points="513.6,384.5 562.65,382.67 595.35,373.3 628.05,351.88 677.1,325.95" fill="none" stroke="#2e2eff" stroke-width="1.1" stroke-linejoin="round"/>
<polyline points="513.6,384.5 562.65,382.07 595.35,361.07 628.05,344.33 677.1,303" fill="none" stroke="#2e2eff" stroke-width="1.1" stroke-linejoin="round"/>
<polyline points="513.6,384.5 562.65,383.89 595.35,380.85 628.05,361.07 677.1,353.58" fill="none" stroke="#2e2eff" stroke-width="1.1" stroke-linejoin="round"/>
<polyline points="513.6,384.5 562.65,384.2 595.35,379.02 628.05,373.85 677.1,355.28" fill="none" stroke="#2e2eff" stroke-width="1.1" stroke-linejoin="round"/>
<polyline points="513.6,384.5 562.65,384.2 595.35,380.24 628.05,374.76 677.1,357.72" fill="none" stroke="#2e2eff" stroke-width="1.1" stroke-linejoin="round"/>
<polyline points="513.6,384.5 562.65,384.5 595.35,381.46 628.05,376.59 677.1,363.5" fill="none" stroke="#2e2eff" stroke-width="1.1" stroke-linejoin="round"/>
<polyline points="513.6,384.5 562.65,384.5 595.35,382.07 628.05,375.37 677.1,377.5" fill="none" stroke="#2e2eff" stroke-width="1.1" stroke-linejoin="round"/>
<polyline points="513.6,384.5 562.65,384.5 595.35,382.67 628.05,378.41 677.1,359.54" fill="none" stroke="#2e2eff" stroke-width="1.1" stroke-linejoin="round"/>
<line x1="47.8" y1="554.25" x2="47.8" y2="449.5" stroke="#222" stroke-width="1.3"/>
<line x1="42.8" y1="553.6" x2="47.8" y2="553.6" stroke="#222" stroke-width="1.3"/>
<text transform="translate(35.3 556.94) scale(1.0000 1)" font-size="9.700" fill="#000" stroke="#000">0</text>
<line x1="42.8" y1="532.78" x2="47.8" y2="532.78" stroke="#222" stroke-width="1.3"/>
<text transform="translate(24.52 536.12) scale(1.0000 1)" font-size="9.700" fill="#000" stroke="#000">500</text>
<line x1="42.8" y1="511.96" x2="47.8" y2="511.96" stroke="#222" stroke-width="1.3"/>
<text transform="translate(19.12 515.3) scale(1.0000 1)" font-size="9.700" fill="#000" stroke="#000">1000</text>
<line x1="42.8" y1="491.14" x2="47.8" y2="491.14" stroke="#222" stroke-width="1.3"/>
<text transform="translate(19.12 494.48) scale(1.0000 1)" font-size="9.700" fill="#000" stroke="#000">1500</text>
<line x1="42.8" y1="470.32" x2="47.8" y2="470.32" stroke="#222" stroke-width="1.3"/>
<text transform="translate(19.12 473.66) scale(1.0000 1)" font-size="9.700" fill="#000" stroke="#000">2000</text>
<line x1="42.8" y1="449.5" x2="47.8" y2="449.5" stroke="#222" stroke-width="1.3"/>
<text transform="translate(19.12 452.84) scale(1.0000 1)" font-size="9.700" fill="#000" stroke="#000">2500</text>
<line x1="47.15" y1="553.6" x2="238.1" y2="553.6" stroke="#222" stroke-width="1.3"/>
<line x1="47.8" y1="553.6" x2="47.8" y2="558.6" stroke="#222" stroke-width="1.3"/>
<text transform="translate(45.03 569.2) scale(0.9800 1)" font-size="10.200" fill="#000" stroke="#000">7</text>
<line x1="86" y1="553.6" x2="86" y2="558.6" stroke="#222" stroke-width="1.3"/>
<text transform="translate(83.23 569.2) scale(0.9800 1)" font-size="10.200" fill="#000" stroke="#000">9</text>
<line x1="124" y1="553.6" x2="124" y2="558.6" stroke="#222" stroke-width="1.3"/>
<text transform="translate(118.33 569.2) scale(0.9800 1)" font-size="10.200" fill="#000" stroke="#000">12</text>
<line x1="162.1" y1="553.6" x2="162.1" y2="558.6" stroke="#222" stroke-width="1.3"/>
<text transform="translate(156.25 569.2) scale(0.9800 1)" font-size="10.200" fill="#000" stroke="#000">14</text>
<line x1="199.9" y1="553.6" x2="199.9" y2="558.6" stroke="#222" stroke-width="1.3"/>
<text transform="translate(194.21 569.2) scale(0.9800 1)" font-size="10.200" fill="#000" stroke="#000">16</text>
<line x1="238.1" y1="553.6" x2="238.1" y2="558.6" stroke="#222" stroke-width="1.3"/>
<text transform="translate(232.41 569.2) scale(0.9800 1)" font-size="10.200" fill="#000" stroke="#000">19</text>
<text transform="translate(12.4 552.12) rotate(-90) scale(1.0688 1)" font-size="9.900" stroke="#000">Tumor volume (mm<tspan dy="-4.46" font-size="6.44">3</tspan><tspan dy="4.46">)</tspan></text>
<text transform="translate(91.9 584.6) scale(1.0616 1)" font-size="9.855" fill="#000" stroke="#000">Days after challenge</text>
<text transform="translate(55.35 456.3) scale(0.9815 1)" font-size="14.203" fill="#000" stroke="#000">Aged WT</text>
<text transform="translate(195.24 456.3) scale(0.9731 1)" font-size="14.783" fill="#000" stroke="#000">B16</text>
<line x1="238.1" y1="480.85" x2="238.1" y2="466.82" stroke="#a2652a" stroke-width="1.4"/>
<line x1="235" y1="466.82" x2="241.2" y2="466.82" stroke="#a2652a" stroke-width="1.4"/>
<line x1="199.9" y1="537.49" x2="199.9" y2="534.4" stroke="#a2652a" stroke-width="1.4"/>
<line x1="196.8" y1="534.4" x2="203" y2="534.4" stroke="#a2652a" stroke-width="1.4"/>
<line x1="238.1" y1="538.19" x2="238.1" y2="535.9" stroke="#2e2eff" stroke-width="1.4"/>
<line x1="235" y1="535.9" x2="241.2" y2="535.9" stroke="#2e2eff" stroke-width="1.4"/>
<polyline points="47.8,553.6 86,552.98 124,551.1 162.1,547.77 199.9,537.49 238.1,480.85" fill="none" stroke="#a2652a" stroke-width="1.6" stroke-linejoin="round"/>
<circle cx="47.8" cy="553.6" r="2.3" fill="#a2652a"/>
<circle cx="86" cy="552.98" r="2.3" fill="#a2652a"/>
<circle cx="124" cy="551.1" r="2.3" fill="#a2652a"/>
<circle cx="162.1" cy="547.77" r="2.3" fill="#a2652a"/>
<circle cx="199.9" cy="537.49" r="2.3" fill="#a2652a"/>
<circle cx="238.1" cy="480.85" r="2.3" fill="#a2652a"/>
<polyline points="47.8,553.6 86,552.98 124,551.02 162.1,548.19 199.9,544.02 238.1,538.19" fill="none" stroke="#2e2eff" stroke-width="1.6" stroke-linejoin="round"/>
<circle cx="47.8" cy="553.6" r="2.3" fill="#2e2eff"/>
<circle cx="86" cy="552.98" r="2.3" fill="#2e2eff"/>
<circle cx="124" cy="551.02" r="2.3" fill="#2e2eff"/>
<circle cx="162.1" cy="548.19" r="2.3" fill="#2e2eff"/>
<circle cx="199.9" cy="544.02" r="2.3" fill="#2e2eff"/>
<circle cx="238.1" cy="538.19" r="2.3" fill="#2e2eff"/>
<line x1="51.8" y1="469.3" x2="63.9" y2="469.3" stroke="#2e2eff" stroke-width="1.5"/>
<circle cx="57.85" cy="469.3" r="1.8" fill="#2e2eff"/>
<text transform="translate(69.92 473.3) scale(1.0950 1)" font-size="8.986" fill="#2e2eff" stroke="#2e2eff">αPD-L2</text>
<line x1="51.8" y1="484.7" x2="63.9" y2="484.7" stroke="#a2652a" stroke-width="1.5"/>
<circle cx="57.85" cy="484.7" r="1.8" fill="#a2652a"/>
<text transform="translate(69.93 489.4) scale(1.1234 1)" font-size="8.551" fill="#a2652a" stroke="#a2652a">αPD-L2</text>
<text transform="translate(70.41 501.1) scale(0.9959 1)" font-size="9.275" fill="#a2652a" stroke="#a2652a">+ αIL-17</text>
<polyline points="107.1,469.6 112.8,469.6 112.8,488.2 107.1,488.2" fill="none" stroke="#111" stroke-width="1.8" stroke-linejoin="round" stroke-linejoin="miter"/>
<text transform="translate(115.57 479.6) scale(1.0392 1)" font-size="9.130" stroke="#000">p&lt; 0.0001</text>
<line x1="295.7" y1="554.95" x2="295.7" y2="446.7" stroke="#222" stroke-width="1.3"/>
<line x1="290.7" y1="554.3" x2="295.7" y2="554.3" stroke="#222" stroke-width="1.3"/>
<text transform="translate(283.76 557.95) scale(0.9600 1)" font-size="10.600" fill="#000" stroke="#000">0</text>
<line x1="290.7" y1="532.78" x2="295.7" y2="532.78" stroke="#222" stroke-width="1.3"/>
<text transform="translate(272.44 536.43) scale(0.9600 1)" font-size="10.600" fill="#000" stroke="#000">500</text>
<line x1="290.7" y1="511.26" x2="295.7" y2="511.26" stroke="#222" stroke-width="1.3"/>
<text transform="translate(266.79 514.91) scale(0.9600 1)" font-size="10.600" fill="#000" stroke="#000">1000</text>
<line x1="290.7" y1="489.74" x2="295.7" y2="489.74" stroke="#222" stroke-width="1.3"/>
<text transform="translate(266.79 493.39) scale(0.9600 1)" font-size="10.600" fill="#000" stroke="#000">1500</text>
<line x1="290.7" y1="468.22" x2="295.7" y2="468.22" stroke="#222" stroke-width="1.3"/>
<text transform="translate(266.79 471.87) scale(0.9600 1)" font-size="10.600" fill="#000" stroke="#000">2000</text>
<line x1="290.7" y1="446.7" x2="295.7" y2="446.7" stroke="#222" stroke-width="1.3"/>
<text transform="translate(266.79 450.35) scale(0.9600 1)" font-size="10.600" fill="#000" stroke="#000">2500</text>
<line x1="295.05" y1="554.3" x2="457.1" y2="554.3" stroke="#222" stroke-width="1.3"/>
<line x1="295.7" y1="554.3" x2="295.7" y2="559.1" stroke="#222" stroke-width="1.3"/>
<text transform="translate(293.01 569.5) scale(0.9500 1)" font-size="10.200" fill="#000" stroke="#000">7</text>
<line x1="322.6" y1="554.3" x2="322.6" y2="559.1" stroke="#222" stroke-width="1.3"/>
<text transform="translate(319.92 569.5) scale(0.9500 1)" font-size="10.200" fill="#000" stroke="#000">9</text>
<line x1="349.5" y1="554.3" x2="349.5" y2="559.1" stroke="#222" stroke-width="1.3"/>
<text transform="translate(344.21 569.5) scale(0.9500 1)" font-size="10.200" fill="#000" stroke="#000">11</text>
<line x1="376.4" y1="554.3" x2="376.4" y2="559.1" stroke="#222" stroke-width="1.3"/>
<text transform="translate(370.88 569.5) scale(0.9500 1)" font-size="10.200" fill="#000" stroke="#000">13</text>
<line x1="403.3" y1="554.3" x2="403.3" y2="559.1" stroke="#222" stroke-width="1.3"/>
<text transform="translate(397.74 569.5) scale(0.9500 1)" font-size="10.200" fill="#000" stroke="#000">15</text>
<line x1="430.2" y1="554.3" x2="430.2" y2="559.1" stroke="#222" stroke-width="1.3"/>
<text transform="translate(424.72 569.5) scale(0.9500 1)" font-size="10.200" fill="#000" stroke="#000">17</text>
<line x1="457.1" y1="554.3" x2="457.1" y2="559.1" stroke="#222" stroke-width="1.3"/>
<text transform="translate(451.59 569.5) scale(0.9500 1)" font-size="10.200" fill="#000" stroke="#000">19</text>
<text transform="translate(260.2 554.62) rotate(-90) scale(0.9887 1)" font-size="11.000" stroke="#000">Tumor volume (mm<tspan dy="-4.95" font-size="7.15">3</tspan><tspan dy="4.95">)</tspan></text>
<text transform="translate(323.58 584.8) scale(1.0932 1)" font-size="9.855" fill="#000" stroke="#000">Days after challenge</text>
<text transform="translate(300.54 452.1) scale(1.0471 1)" font-size="13.913" fill="#000" stroke="#000">Aged WT</text>
<text transform="translate(421.41 452.4) scale(1.0064 1)" font-size="14.638" fill="#000" stroke="#000">B16</text>
<text transform="translate(300.61 469.5) scale(1.0522 1)" font-size="9.565" fill="#2e2eff" stroke="#2e2eff">αPD-L2 + iso</text>
<clipPath id="cl295"><rect x="295.7" y="446.7" width="200" height="120"/></clipPath>
<polyline points="295.7,554.3 322.6,553.44 349.5,550.86 362.95,547.84 389.85,540.1 416.75,540.1 457.1,540.53" fill="none" stroke="#2e2eff" stroke-width="1.1" stroke-linejoin="round" clip-path="url(#cl295)"/>
<polyline points="295.7,554.3 322.6,553.87 349.5,551.72 362.95,549.14 389.85,542.68 416.75,538.81 457.1,541.39" fill="none" stroke="#2e2eff" stroke-width="1.1" stroke-linejoin="round" clip-path="url(#cl295)"/>
<polyline points="295.7,554.3 322.6,554.08 349.5,553.01 389.85,551.72 416.75,543.54 457.1,524.17" fill="none" stroke="#2e2eff" stroke-width="1.1" stroke-linejoin="round" clip-path="url(#cl295)"/>
<polyline points="295.7,554.3 322.6,554.08 349.5,553.44 389.85,552.58 416.75,537.94 457.1,536.22" fill="none" stroke="#2e2eff" stroke-width="1.1" stroke-linejoin="round" clip-path="url(#cl295)"/>
<polyline points="295.7,554.3 322.6,554.08 349.5,553.87 389.85,553.44 416.75,545.69 457.1,537.94" fill="none" stroke="#2e2eff" stroke-width="1.1" stroke-linejoin="round" clip-path="url(#cl295)"/>
<polyline points="295.7,554.3 322.6,554.3 349.5,554.08 389.85,553.87 416.75,551.72 457.1,547.84" fill="none" stroke="#2e2eff" stroke-width="1.1" stroke-linejoin="round" clip-path="url(#cl295)"/>
<polyline points="295.7,554.3 322.6,554.3 349.5,554.08 389.85,553.01 416.75,553.01" fill="none" stroke="#2e2eff" stroke-width="1.1" stroke-linejoin="round" clip-path="url(#cl295)"/>
<line x1="517.5" y1="554.75" x2="517.5" y2="446.5" stroke="#222" stroke-width="1.3"/>
<line x1="512.5" y1="554.1" x2="517.5" y2="554.1" stroke="#222" stroke-width="1.3"/>
<text transform="translate(505.56 557.75) scale(0.9600 1)" font-size="10.600" fill="#000" stroke="#000">0</text>
<line x1="512.5" y1="532.58" x2="517.5" y2="532.58" stroke="#222" stroke-width="1.3"/>
<text transform="translate(494.24 536.23) scale(0.9600 1)" font-size="10.600" fill="#000" stroke="#000">500</text>
<line x1="512.5" y1="511.06" x2="517.5" y2="511.06" stroke="#222" stroke-width="1.3"/>
<text transform="translate(488.59 514.71) scale(0.9600 1)" font-size="10.600" fill="#000" stroke="#000">1000</text>
<line x1="512.5" y1="489.54" x2="517.5" y2="489.54" stroke="#222" stroke-width="1.3"/>
<text transform="translate(488.59 493.19) scale(0.9600 1)" font-size="10.600" fill="#000" stroke="#000">1500</text>
<line x1="512.5" y1="468.02" x2="517.5" y2="468.02" stroke="#222" stroke-width="1.3"/>
<text transform="translate(488.59 471.67) scale(0.9600 1)" font-size="10.600" fill="#000" stroke="#000">2000</text>
<line x1="512.5" y1="446.5" x2="517.5" y2="446.5" stroke="#222" stroke-width="1.3"/>
<text transform="translate(488.59 450.15) scale(0.9600 1)" font-size="10.600" fill="#000" stroke="#000">2500</text>
<line x1="516.85" y1="554.1" x2="678.9" y2="554.1" stroke="#222" stroke-width="1.3"/>
<line x1="517.5" y1="554.1" x2="517.5" y2="558.9" stroke="#222" stroke-width="1.3"/>
<text transform="translate(514.81 569.5) scale(0.9500 1)" font-size="10.200" fill="#000" stroke="#000">7</text>
<line x1="544.4" y1="554.1" x2="544.4" y2="558.9" stroke="#222" stroke-width="1.3"/>
<text transform="translate(541.72 569.5) scale(0.9500 1)" font-size="10.200" fill="#000" stroke="#000">9</text>
<line x1="571.3" y1="554.1" x2="571.3" y2="558.9" stroke="#222" stroke-width="1.3"/>
<text transform="translate(566.01 569.5) scale(0.9500 1)" font-size="10.200" fill="#000" stroke="#000">11</text>
<line x1="598.2" y1="554.1" x2="598.2" y2="558.9" stroke="#222" stroke-width="1.3"/>
<text transform="translate(592.68 569.5) scale(0.9500 1)" font-size="10.200" fill="#000" stroke="#000">13</text>
<line x1="625.1" y1="554.1" x2="625.1" y2="558.9" stroke="#222" stroke-width="1.3"/>
<text transform="translate(619.54 569.5) scale(0.9500 1)" font-size="10.200" fill="#000" stroke="#000">15</text>
<line x1="652" y1="554.1" x2="652" y2="558.9" stroke="#222" stroke-width="1.3"/>
<text transform="translate(646.52 569.5) scale(0.9500 1)" font-size="10.200" fill="#000" stroke="#000">17</text>
<line x1="678.9" y1="554.1" x2="678.9" y2="558.9" stroke="#222" stroke-width="1.3"/>
<text transform="translate(673.39 569.5) scale(0.9500 1)" font-size="10.200" fill="#000" stroke="#000">19</text>
<text transform="translate(482 554.62) rotate(-90) scale(0.9887 1)" font-size="11.000" stroke="#000">Tumor volume (mm<tspan dy="-4.95" font-size="7.15">3</tspan><tspan dy="4.95">)</tspan></text>
<text transform="translate(545.58 584.7) scale(1.0805 1)" font-size="10.000" fill="#000" stroke="#000">Days after challenge</text>
<text transform="translate(522.54 453.4) scale(1.0619 1)" font-size="13.478" fill="#000" stroke="#000">Aged WT</text>
<text transform="translate(641.22 452.6) scale(0.9848 1)" font-size="14.783" fill="#000" stroke="#000">B16</text>
<text transform="translate(522.71 467.5) scale(1.1101 1)" font-size="8.986" fill="#a2652a" stroke="#a2652a">αPD-L2 + αIL-17</text>
<clipPath id="cl517"><rect x="517.5" y="446.5" width="200" height="120"/></clipPath>
<polyline points="517.5,554.1 544.4,553.24 571.3,551.52 611.65,544.93 638.55,526.12 678.9,453.39" fill="none" stroke="#a2652a" stroke-width="1.1" stroke-linejoin="round" clip-path="url(#cl517)"/>
<polyline points="517.5,554.1 544.4,553.67 571.3,552.38 611.65,546.44 638.55,524.83 678.9,455.11" fill="none" stroke="#a2652a" stroke-width="1.1" stroke-linejoin="round" clip-path="url(#cl517)"/>
<polyline points="517.5,554.1 544.4,553.67 571.3,552.81 611.65,547.73 638.55,545.49 678.9,427.13" fill="none" stroke="#a2652a" stroke-width="1.1" stroke-linejoin="round" clip-path="url(#cl517)"/>
<polyline points="517.5,554.1 544.4,553.88 571.3,553.24 611.65,549.49 638.55,544.2 678.9,464.58" fill="none" stroke="#a2652a" stroke-width="1.1" stroke-linejoin="round" clip-path="url(#cl517)"/>
<polyline points="517.5,554.1 544.4,553.88 571.3,553.24 611.65,548.94 638.55,548.5 678.9,500.3" fill="none" stroke="#a2652a" stroke-width="1.1" stroke-linejoin="round" clip-path="url(#cl517)"/>
<polyline points="517.5,554.1 544.4,553.88 571.3,553.67 611.65,549.8 638.55,548.94 678.9,510.63" fill="none" stroke="#a2652a" stroke-width="1.1" stroke-linejoin="round" clip-path="url(#cl517)"/>
<polyline points="517.5,554.1 544.4,553.88 571.3,553.67 611.65,547.64 638.55,544.2 678.9,536.45" fill="none" stroke="#a2652a" stroke-width="1.1" stroke-linejoin="round" clip-path="url(#cl517)"/>
<line x1="44.8" y1="719.95" x2="44.8" y2="614.4" stroke="#222" stroke-width="1.3"/>
<line x1="39.3" y1="719.3" x2="44.8" y2="719.3" stroke="#222" stroke-width="1.3"/>
<text transform="translate(32.74 722.26) scale(1.0300 1)" font-size="8.600" fill="#000" stroke="#000">0</text>
<line x1="39.3" y1="693.07" x2="44.8" y2="693.07" stroke="#222" stroke-width="1.3"/>
<text transform="translate(22.89 696.03) scale(1.0300 1)" font-size="8.600" fill="#000" stroke="#000">500</text>
<line x1="39.3" y1="666.85" x2="44.8" y2="666.85" stroke="#222" stroke-width="1.3"/>
<text transform="translate(17.96 669.81) scale(1.0300 1)" font-size="8.600" fill="#000" stroke="#000">1000</text>
<line x1="39.3" y1="640.62" x2="44.8" y2="640.62" stroke="#222" stroke-width="1.3"/>
<text transform="translate(17.96 643.58) scale(1.0300 1)" font-size="8.600" fill="#000" stroke="#000">1500</text>
<line x1="39.3" y1="614.4" x2="44.8" y2="614.4" stroke="#222" stroke-width="1.3"/>
<text transform="translate(17.96 617.36) scale(1.0300 1)" font-size="8.600" fill="#000" stroke="#000">2000</text>
<line x1="44.15" y1="719.3" x2="240.45" y2="719.3" stroke="#222" stroke-width="1.3"/>
<line x1="44.8" y1="719.3" x2="44.8" y2="724.1" stroke="#222" stroke-width="1.3"/>
<text transform="translate(42.43 734.1) scale(0.9600 1)" font-size="8.900" fill="#000" stroke="#000">7</text>
<line x1="89.95" y1="719.3" x2="89.95" y2="724.1" stroke="#222" stroke-width="1.3"/>
<text transform="translate(85.11 734.1) scale(0.9600 1)" font-size="8.900" fill="#000" stroke="#000">10</text>
<line x1="135.1" y1="719.3" x2="135.1" y2="724.1" stroke="#222" stroke-width="1.3"/>
<text transform="translate(130.23 734.1) scale(0.9600 1)" font-size="8.900" fill="#000" stroke="#000">13</text>
<line x1="180.25" y1="719.3" x2="180.25" y2="724.1" stroke="#222" stroke-width="1.3"/>
<text transform="translate(175.38 734.1) scale(0.9600 1)" font-size="8.900" fill="#000" stroke="#000">16</text>
<line x1="225.4" y1="719.3" x2="225.4" y2="724.1" stroke="#222" stroke-width="1.3"/>
<text transform="translate(220.54 734.1) scale(0.9600 1)" font-size="8.900" fill="#000" stroke="#000">19</text>
<text transform="translate(13.6 720.52) rotate(-90) scale(0.9951 1)" font-size="11.000" stroke="#000">Tumor volume (mm<tspan dy="-4.95" font-size="7.15">3</tspan><tspan dy="4.95">)</tspan></text>
<text transform="translate(89.67 750.6) scale(1.0551 1)" font-size="10.290" fill="#000" stroke="#000">Days after challenge</text>
<text transform="translate(48.94 625.8) scale(1.0283 1)" font-size="14.058" fill="#000" stroke="#000">Aged IL-17</text>
<text transform="translate(123.04 621.45) scale(0.9443 1)" font-size="12.029" fill="#000" stroke="#000">KO</text>
<text transform="translate(200.36 626) scale(0.9265 1)" font-size="15.072" fill="#000" stroke="#000">NCH1</text>
<line x1="105" y1="703.51" x2="105" y2="699.37" stroke="#111" stroke-width="1.1"/>
<line x1="102.4" y1="699.37" x2="107.6" y2="699.37" stroke="#111" stroke-width="1.1"/>
<line x1="135.1" y1="695.38" x2="135.1" y2="689.93" stroke="#111" stroke-width="1.1"/>
<line x1="132.5" y1="689.93" x2="137.7" y2="689.93" stroke="#111" stroke-width="1.1"/>
<line x1="165.2" y1="686.26" x2="165.2" y2="681.54" stroke="#111" stroke-width="1.1"/>
<line x1="162.6" y1="681.54" x2="167.8" y2="681.54" stroke="#111" stroke-width="1.1"/>
<line x1="195.3" y1="670.57" x2="195.3" y2="664.49" stroke="#111" stroke-width="1.1"/>
<line x1="192.7" y1="664.49" x2="197.9" y2="664.49" stroke="#111" stroke-width="1.1"/>
<line x1="240.45" y1="668.37" x2="240.45" y2="663.97" stroke="#111" stroke-width="1.1"/>
<line x1="237.85" y1="663.97" x2="243.05" y2="663.97" stroke="#111" stroke-width="1.1"/>
<line x1="135.1" y1="692.81" x2="135.1" y2="688.35" stroke="#2e2eff" stroke-width="1.1"/>
<line x1="132.5" y1="688.35" x2="137.7" y2="688.35" stroke="#2e2eff" stroke-width="1.1"/>
<line x1="165.2" y1="685.21" x2="165.2" y2="680.38" stroke="#2e2eff" stroke-width="1.1"/>
<line x1="162.6" y1="680.38" x2="167.8" y2="680.38" stroke="#2e2eff" stroke-width="1.1"/>
<line x1="195.3" y1="672.36" x2="195.3" y2="664.49" stroke="#2e2eff" stroke-width="1.1"/>
<line x1="192.7" y1="664.49" x2="197.9" y2="664.49" stroke="#2e2eff" stroke-width="1.1"/>
<line x1="240.45" y1="668.95" x2="240.45" y2="662.76" stroke="#2e2eff" stroke-width="1.1"/>
<line x1="237.85" y1="662.76" x2="243.05" y2="662.76" stroke="#2e2eff" stroke-width="1.1"/>
<polyline points="44.8,715.31 74.9,711.69 105,704.88 135.1,692.81 165.2,685.21 195.3,672.36 240.45,668.95" fill="none" stroke="#2e2eff" stroke-width="1.3" stroke-linejoin="round"/>
<circle cx="44.8" cy="715.31" r="2.3" fill="#2e2eff"/>
<circle cx="74.9" cy="711.69" r="2.3" fill="#2e2eff"/>
<circle cx="105" cy="704.88" r="2.3" fill="#2e2eff"/>
<circle cx="135.1" cy="692.81" r="2.3" fill="#2e2eff"/>
<circle cx="165.2" cy="685.21" r="2.3" fill="#2e2eff"/>
<circle cx="195.3" cy="672.36" r="2.3" fill="#2e2eff"/>
<circle cx="240.45" cy="668.95" r="2.3" fill="#2e2eff"/>
<polyline points="44.8,716.1 74.9,711.59 105,703.51 135.1,695.38 165.2,686.26 195.3,670.57 240.45,668.37" fill="none" stroke="#111" stroke-width="1.2" stroke-linejoin="round"/>
<circle cx="44.8" cy="716.1" r="2.4" fill="#111"/>
<circle cx="74.9" cy="711.59" r="2.4" fill="#111"/>
<circle cx="105" cy="703.51" r="2.4" fill="#111"/>
<circle cx="135.1" cy="695.38" r="2.4" fill="#111"/>
<circle cx="165.2" cy="686.26" r="2.4" fill="#111"/>
<circle cx="195.3" cy="670.57" r="2.4" fill="#111"/>
<circle cx="240.45" cy="668.37" r="2.4" fill="#111"/>
<line x1="47.9" y1="638.8" x2="60.3" y2="638.8" stroke="#111" stroke-width="1.5"/>
<circle cx="54.1" cy="638.8" r="2" fill="#111"/>
<text transform="translate(66.5 641.4) scale(1.1052 1)" font-size="7.724" fill="#000" stroke="#000">isotype</text>
<line x1="47.9" y1="647.2" x2="60.3" y2="647.2" stroke="#2e2eff" stroke-width="1.5"/>
<circle cx="54.1" cy="647.2" r="2" fill="#2e2eff"/>
<text transform="translate(66.46 650.1) scale(1.1506 1)" font-size="7.536" fill="#2e2eff" stroke="#2e2eff">αPD-L2</text>
<polyline points="99.8,636.9 103.1,636.9 103.1,651.2 99.8,651.2" fill="none" stroke="#111" stroke-width="1.6" stroke-linejoin="round" stroke-linejoin="miter"/>
<text transform="translate(107.65 646.1) scale(1.1919 1)" font-size="6.957" fill="#000" stroke="#000">p = 0.99</text>
<line x1="293.3" y1="720.25" x2="293.3" y2="608.5" stroke="#222" stroke-width="1.3"/>
<line x1="288.7" y1="719.6" x2="293.3" y2="719.6" stroke="#222" stroke-width="1.3"/>
<text transform="translate(281.8 722.52) scale(1.0500 1)" font-size="8.500" fill="#000" stroke="#000">0</text>
<line x1="288.7" y1="691.83" x2="293.3" y2="691.83" stroke="#222" stroke-width="1.3"/>
<text transform="translate(271.88 694.75) scale(1.0500 1)" font-size="8.500" fill="#000" stroke="#000">500</text>
<line x1="288.7" y1="664.05" x2="293.3" y2="664.05" stroke="#222" stroke-width="1.3"/>
<text transform="translate(266.92 666.97) scale(1.0500 1)" font-size="8.500" fill="#000" stroke="#000">1000</text>
<line x1="288.7" y1="636.27" x2="293.3" y2="636.27" stroke="#222" stroke-width="1.3"/>
<text transform="translate(266.92 639.2) scale(1.0500 1)" font-size="8.500" fill="#000" stroke="#000">1500</text>
<line x1="288.7" y1="608.5" x2="293.3" y2="608.5" stroke="#222" stroke-width="1.3"/>
<text transform="translate(266.92 611.42) scale(1.0500 1)" font-size="8.500" fill="#000" stroke="#000">2000</text>
<line x1="292.65" y1="719.6" x2="460.61" y2="719.6" stroke="#222" stroke-width="1.3"/>
<line x1="293.3" y1="719.6" x2="293.3" y2="724.2" stroke="#222" stroke-width="1.3"/>
<text transform="translate(290.72 734.4) scale(1.0000 1)" font-size="9.300" fill="#000" stroke="#000">7</text>
<line x1="331.91" y1="719.6" x2="331.91" y2="724.2" stroke="#222" stroke-width="1.3"/>
<text transform="translate(326.64 734.4) scale(1.0000 1)" font-size="9.300" fill="#000" stroke="#000">10</text>
<line x1="370.52" y1="719.6" x2="370.52" y2="724.2" stroke="#222" stroke-width="1.3"/>
<text transform="translate(365.22 734.4) scale(1.0000 1)" font-size="9.300" fill="#000" stroke="#000">13</text>
<line x1="409.13" y1="719.6" x2="409.13" y2="724.2" stroke="#222" stroke-width="1.3"/>
<text transform="translate(403.83 734.4) scale(1.0000 1)" font-size="9.300" fill="#000" stroke="#000">16</text>
<line x1="447.74" y1="719.6" x2="447.74" y2="724.2" stroke="#222" stroke-width="1.3"/>
<text transform="translate(442.45 734.4) scale(1.0000 1)" font-size="9.300" fill="#000" stroke="#000">19</text>
<text transform="translate(261 719.32) rotate(-90) scale(1.0330 1)" font-size="11.000" stroke="#000">Tumor volume (mm<tspan dy="-4.95" font-size="7.15">3</tspan><tspan dy="4.95">)</tspan></text>
<text transform="translate(322.95 750.4) scale(1.1312 1)" font-size="9.855" fill="#000" stroke="#000">Days after challenge</text>
<text transform="translate(298.33 616.9) scale(0.9920 1)" font-size="15.072" fill="#000" stroke="#000">Aged IL-17</text>
<text transform="translate(374.83 611.85) scale(0.9562 1)" font-size="12.029" fill="#000" stroke="#000">KO</text>
<text transform="translate(414.13 617) scale(0.9094 1)" font-size="15.942" fill="#000" stroke="#000">NCH1</text>
<text transform="translate(297.38 633.2) scale(1.0636 1)" font-size="8.276" fill="#111" stroke="#111">isotype</text>
<polyline points="293.3,713.05 319.04,695.88 344.78,669.99 370.52,661.27 396.26,642.05 422,641.55 460.61,634.39" fill="none" stroke="#111" stroke-width="1.1" stroke-linejoin="round"/>
<polyline points="293.3,714.05 319.04,706.66 344.78,693.32 370.52,684.05 396.26,668.66 422,657.94 460.61,648.94" fill="none" stroke="#111" stroke-width="1.1" stroke-linejoin="round"/>
<polyline points="293.3,716.27 319.04,714.05 344.78,699.44 370.52,691.27 396.26,674.72 422,647.22 460.61,657.16" fill="none" stroke="#111" stroke-width="1.1" stroke-linejoin="round"/>
<polyline points="293.3,716.82 319.04,714.32 344.78,704.05 370.52,691.83 396.26,687.38 422,660.99 460.61,668.72" fill="none" stroke="#111" stroke-width="1.1" stroke-linejoin="round"/>
<polyline points="293.3,715.71 319.04,712.38 344.78,706.66 370.52,700.16 396.26,692.49 422,659.22 460.61,652.27" fill="none" stroke="#111" stroke-width="1.1" stroke-linejoin="round"/>
<polyline points="293.3,717.38 319.04,716.82 344.78,713.05 370.52,704.05 396.26,701.55 422,683.55 460.61,675.88" fill="none" stroke="#111" stroke-width="1.1" stroke-linejoin="round"/>
<polyline points="293.3,717.93 319.04,715.6 344.78,711.27 370.52,709.27 396.26,704.05 422,686.1 460.61,678.49" fill="none" stroke="#111" stroke-width="1.1" stroke-linejoin="round"/>
<polyline points="293.3,715.16 319.04,713.05 344.78,709.21 370.52,706.66 396.26,700.71 422,707.16 460.61,698.94" fill="none" stroke="#111" stroke-width="1.1" stroke-linejoin="round"/>
<polyline points="293.3,714.6 319.04,706.66 344.78,705.16 370.52,705.99 396.26,705.16 422,687.38 460.61,677.38" fill="none" stroke="#111" stroke-width="1.1" stroke-linejoin="round"/>
<line x1="512.6" y1="720.25" x2="512.6" y2="608.5" stroke="#222" stroke-width="1.3"/>
<line x1="508" y1="719.6" x2="512.6" y2="719.6" stroke="#222" stroke-width="1.3"/>
<text transform="translate(501.1 722.52) scale(1.0500 1)" font-size="8.500" fill="#000" stroke="#000">0</text>
<line x1="508" y1="691.83" x2="512.6" y2="691.83" stroke="#222" stroke-width="1.3"/>
<text transform="translate(491.18 694.75) scale(1.0500 1)" font-size="8.500" fill="#000" stroke="#000">500</text>
<line x1="508" y1="664.05" x2="512.6" y2="664.05" stroke="#222" stroke-width="1.3"/>
<text transform="translate(486.22 666.97) scale(1.0500 1)" font-size="8.500" fill="#000" stroke="#000">1000</text>
<line x1="508" y1="636.27" x2="512.6" y2="636.27" stroke="#222" stroke-width="1.3"/>
<text transform="translate(486.22 639.2) scale(1.0500 1)" font-size="8.500" fill="#000" stroke="#000">1500</text>
<line x1="508" y1="608.5" x2="512.6" y2="608.5" stroke="#222" stroke-width="1.3"/>
<text transform="translate(486.22 611.42) scale(1.0500 1)" font-size="8.500" fill="#000" stroke="#000">2000</text>
<line x1="511.95" y1="719.6" x2="679.91" y2="719.6" stroke="#222" stroke-width="1.3"/>
<line x1="512.6" y1="719.6" x2="512.6" y2="724.2" stroke="#222" stroke-width="1.3"/>
<text transform="translate(510.02 734.4) scale(1.0000 1)" font-size="9.300" fill="#000" stroke="#000">7</text>
<line x1="551.21" y1="719.6" x2="551.21" y2="724.2" stroke="#222" stroke-width="1.3"/>
<text transform="translate(545.94 734.4) scale(1.0000 1)" font-size="9.300" fill="#000" stroke="#000">10</text>
<line x1="589.82" y1="719.6" x2="589.82" y2="724.2" stroke="#222" stroke-width="1.3"/>
<text transform="translate(584.52 734.4) scale(1.0000 1)" font-size="9.300" fill="#000" stroke="#000">13</text>
<line x1="628.43" y1="719.6" x2="628.43" y2="724.2" stroke="#222" stroke-width="1.3"/>
<text transform="translate(623.13 734.4) scale(1.0000 1)" font-size="9.300" fill="#000" stroke="#000">16</text>
<line x1="667.04" y1="719.6" x2="667.04" y2="724.2" stroke="#222" stroke-width="1.3"/>
<text transform="translate(661.75 734.4) scale(1.0000 1)" font-size="9.300" fill="#000" stroke="#000">19</text>
<text transform="translate(480.3 719.32) rotate(-90) scale(1.0330 1)" font-size="11.000" stroke="#000">Tumor volume (mm<tspan dy="-4.95" font-size="7.15">3</tspan><tspan dy="4.95">)</tspan></text>
<text transform="translate(541.75 750.4) scale(1.1344 1)" font-size="9.855" fill="#000" stroke="#000">Days after challenge</text>
<text transform="translate(517.32 616.6) scale(0.9890 1)" font-size="15.217" fill="#000" stroke="#000">Aged IL-17</text>
<text transform="translate(594.13 611.85) scale(0.9562 1)" font-size="12.029" fill="#000" stroke="#000">KO</text>
<text transform="translate(633.43 617) scale(0.9094 1)" font-size="15.942" fill="#000" stroke="#000">NCH1</text>
<text transform="translate(516.95 632.8) scale(1.0972 1)" font-size="8.116" fill="#2e2eff" stroke="#2e2eff">αPD-L2</text>
<polyline points="512.6,709.27 538.34,701.55 564.08,689.33 589.82,667.05 615.56,652.94 641.3,628.66 679.91,644.05" fill="none" stroke="#2e2eff" stroke-width="1.1" stroke-linejoin="round"/>
<polyline points="512.6,712.32 538.34,704.1 564.08,690.83 589.82,668.33 615.56,659.88 641.3,629.44 679.91,658.05" fill="none" stroke="#2e2eff" stroke-width="1.1" stroke-linejoin="round"/>
<polyline points="512.6,716.27 538.34,712.93 564.08,706.27 589.82,683.77 615.56,674.72 641.3,660.66 679.91,635.16" fill="none" stroke="#2e2eff" stroke-width="1.1" stroke-linejoin="round"/>
<polyline points="512.6,717.38 538.34,714.6 564.08,711.27 589.82,698.99 615.56,682.38 641.3,673.44 679.91,651.72" fill="none" stroke="#2e2eff" stroke-width="1.1" stroke-linejoin="round"/>
<polyline points="512.6,717.93 538.34,716.27 564.08,713.49 589.82,705.38 615.56,693.94 641.3,674.72 679.91,660.66" fill="none" stroke="#2e2eff" stroke-width="1.1" stroke-linejoin="round"/>
<polyline points="512.6,716.82 538.34,715.16 564.08,706.66 589.82,691.83 615.56,693.94 641.3,685.71 679.91,661.16" fill="none" stroke="#2e2eff" stroke-width="1.1" stroke-linejoin="round"/>
<polyline points="512.6,714.6 538.34,708.49 564.08,690.16 589.82,683.77 615.56,678.49 641.3,673.44 679.91,674.72" fill="none" stroke="#2e2eff" stroke-width="1.1" stroke-linejoin="round"/>
<polyline points="512.6,715.71 538.34,711.27 564.08,705.71 589.82,686.27 615.56,676.27 641.3,668.38 679.91,681.6" fill="none" stroke="#2e2eff" stroke-width="1.1" stroke-linejoin="round"/>
<polyline points="512.6,718.49 538.34,717.38 564.08,712.93 589.82,707.93 615.56,702.94 641.3,701.05 679.91,690.05" fill="none" stroke="#2e2eff" stroke-width="1.1" stroke-linejoin="round"/>
<polyline points="512.6,719.04 538.34,717.93 564.08,714.05 589.82,708.71 615.56,707.27 641.3,701.05 679.91,692.6" fill="none" stroke="#2e2eff" stroke-width="1.1" stroke-linejoin="round"/>
</svg>
</body></html>
